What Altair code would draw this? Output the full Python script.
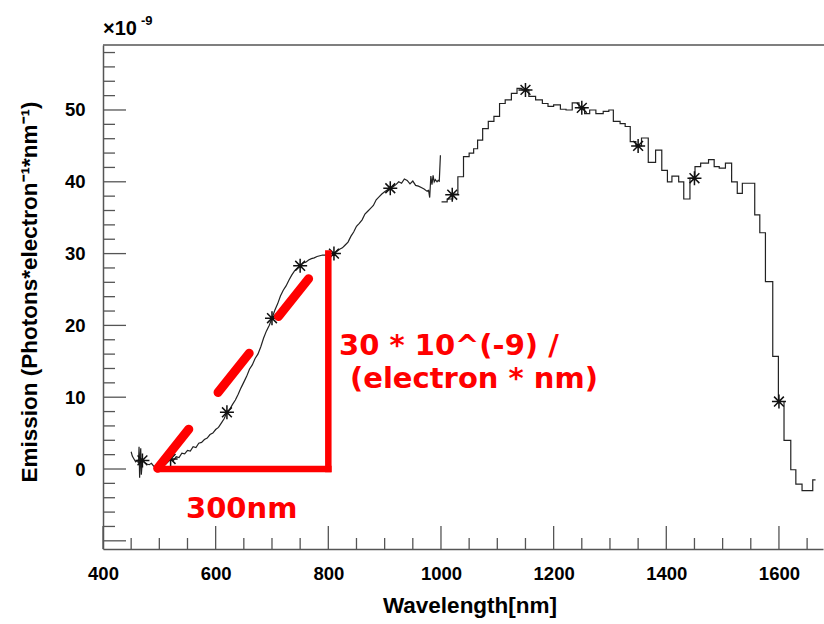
import altair as alt
import pandas as pd

# ---- visible-range spectrum (fine sampling) ----
vis_wl = [450, 452, 455, 458, 461, 463, 464, 465, 466, 467, 468, 470, 474, 478, 482, 486, 490, 494, 498,
          500, 505, 510, 515, 520, 525, 530, 535, 540, 545, 550, 555, 560, 565, 570, 575, 580, 585, 590, 595,
          600, 605, 610, 615, 620, 625, 630, 635, 640, 645, 650, 655, 660, 665, 670, 675, 680, 685, 690, 695,
          700, 705, 710, 715, 720, 725, 730, 735, 740, 745, 750, 755, 760, 765, 770, 775, 780, 785, 790, 795,
          800, 805, 810, 815, 820, 825, 830, 835, 840, 845, 850, 855, 860, 865, 870, 875, 880, 885, 890, 895,
          900, 905, 910, 915, 920, 925, 930, 935, 940, 945, 950, 955, 960, 965, 970, 975, 978, 980, 982, 984,
          986, 988, 990, 993, 995, 997, 999]
vis_em = [2.4, 1.8, 1.4, 1.0, 1.2, 0.8, 3.1, -1.2, 1.5, 2.9, -0.8, 1.2, 0.9, 0.7, 0.6, 0.8, 0.4, 0.3, 0.5,
          0.6, 0.5, 0.9, 1.0, 1.4, 1.2, 1.7, 1.6, 2.2, 2.1, 2.6, 2.5, 3.1, 3.0, 3.6, 3.7, 4.1, 4.3, 4.8, 5.0,
          5.5, 5.8, 6.4, 7.0, 7.9, 8.3, 9.0, 9.6, 10.4, 11.3, 12.1, 12.9, 13.9, 14.5, 15.4, 16.0, 17.0, 18.2, 19.2, 20.0,
          21.0, 22.1, 23.0, 24.1, 24.9, 25.5, 26.3, 27.0, 27.6, 28.0, 28.3, 28.7, 28.8, 29.1, 29.3, 29.4, 29.6, 29.7, 29.8, 29.8,
          29.9, 30.0, 30.0, 30.3, 30.6, 30.8, 31.2, 31.6, 32.4, 33.0, 33.8, 34.2, 34.7, 35.5, 35.9, 36.3, 36.7, 37.5, 37.9, 38.3,
          38.6, 38.9, 39.1, 39.3, 39.6, 40.0, 39.8, 40.4, 40.2, 39.7, 40.1, 39.5, 39.4, 39.2, 39.0, 38.7, 38.8, 37.8, 40.8, 39.6,
          40.9, 40.0, 40.3, 40.0, 40.2, 40.1, 43.7]

# ---- NIR spectrum (binned, step-after) ----
nir_wl = [1001, 1011, 1021, 1030, 1040, 1050, 1058, 1065, 1074, 1084, 1094, 1104, 1114, 1125, 1135,
          1144, 1156, 1168, 1180, 1190, 1200, 1212, 1222, 1233, 1245, 1255, 1264, 1275, 1288, 1298,
          1306, 1318, 1327, 1336, 1346, 1356, 1368, 1381, 1392, 1402, 1410, 1422, 1431, 1442, 1451,
          1461, 1475, 1485, 1494, 1505, 1516, 1526, 1535, 1557, 1566, 1576, 1589, 1599, 1609, 1621,
          1630, 1641, 1660, 1665]
nir_em = [37.2, 37.6, 38.3, 40.7, 43.5, 44.0, 44.6, 45.8, 47.4, 48.4, 49.1, 50.9, 51.4, 52.3, 53.0,
          52.8, 51.9, 51.4, 50.9, 50.5, 50.7, 50.1, 50.0, 51.0, 50.3, 49.5, 50.0, 49.5, 49.8, 50.0,
          48.4, 48.1, 47.7, 45.6, 45.0, 46.1, 42.7, 44.4, 41.6, 40.0, 40.8, 40.0, 37.6, 40.5, 42.1,
          42.6, 43.1, 42.1, 41.9, 42.6, 40.0, 38.4, 39.8, 35.4, 32.9, 26.1, 15.7, 9.4, 4.0, -0.1,
          -2.1, -3.0, -1.5, -1.5]

# ---- asterisk markers ----
star_wl = [470, 520, 620, 700, 750, 810, 910, 1020, 1150, 1250, 1350, 1450, 1600]
star_em = [1.2, 1.4, 7.9, 21.0, 28.3, 30.0, 39.1, 38.2, 52.8, 50.3, 45.0, 40.5, 9.4]

# ---- axis ticks / labels ----
x_labels = [400, 600, 800, 1000, 1200, 1400, 1600]
y_labels = [0, 10, 20, 30, 40, 50]
x_major = [400, 600, 800, 1000, 1200, 1400, 1600]
x_minor = [450, 500, 550, 650, 700, 750, 850, 900, 950, 1050, 1100, 1150, 1250, 1300, 1350,
           1450, 1500, 1550, 1650]
y_major = [-10, 0, 10, 20, 30, 40, 50]
y_minor = [-8, -6, -4, -2, 2, 4, 6, 8, 12, 14, 16, 18, 22, 24, 26, 28, 32, 34, 36, 38,
           42, 44, 46, 48, 52, 54, 56, 58]

# ---- red annotation ----
tri_x = [500, 800]
tri_y = [0, 30]
dash_x = [497, 765]
dash_y = [0.1, 26.5]

W, H = 720, 504
xs = alt.Scale(domain=[400, 1678.2], nice=False, zero=False)
ys = alt.Scale(domain=[-11.14, 59.05], nice=False, zero=False)
AX = "#555555"
FONT = "Liberation Sans"
RED = "#ff0000"

xaxis = alt.Axis(values=x_labels, ticks=False, grid=False, domain=True, domainColor=AX,
                 domainWidth=1.5, labelFont=FONT, labelFontSize=18.5, labelFontWeight="bold",
                 labelColor="black", labelPadding=15, labelFlush=False, labelOverlap=False,
                 format="d", title=None)
yaxis = alt.Axis(values=y_labels, ticks=False, grid=False, domain=True, domainColor=AX,
                 domainWidth=1.5, labelFont=FONT, labelFontSize=18.5, labelFontWeight="bold",
                 labelColor="black", labelPadding=18, labelFlush=False, labelOverlap=False,
                 format="d", title=None)


def X(field):
    return alt.X(field, scale=xs, axis=xaxis)


def Y(field):
    return alt.Y(field, scale=ys, axis=yaxis)


vis_df = pd.DataFrame({"wl": vis_wl, "em": vis_em})
nir_df = pd.DataFrame({"wl": nir_wl, "em": nir_em})
star_df = pd.DataFrame({"wl": star_wl, "em": star_em})

vis_line = alt.Chart(vis_df).mark_line(color="#222222", strokeWidth=1.2, clip=True).encode(
    x=X("wl:Q"), y=Y("em:Q"))
nir_line = alt.Chart(nir_df).mark_line(color="#222222", strokeWidth=1.2, interpolate="step-after",
                                       clip=True).encode(x=X("wl:Q"), y=Y("em:Q"))
ASTER = "M-1,0L1,0M0,-1L0,1M-0.7,-0.7L0.7,0.7M-0.7,0.7L0.7,-0.7"
stars = alt.Chart(star_df).mark_point(shape=ASTER, size=196, filled=False, strokeWidth=1.5,
                                      color="#111111", opacity=1).encode(x=X("wl:Q"), y=Y("em:Q"))


# ticks (inside, ROOT style)
def ytick(vals, length):
    return alt.Chart(pd.DataFrame({"v": vals})).mark_rule(color=AX, strokeWidth=1.3).encode(
        y=Y("v:Q"), x=alt.value(0), x2=alt.value(length))


def xtick(vals, length):
    return alt.Chart(pd.DataFrame({"v": vals})).mark_rule(color=AX, strokeWidth=1.3).encode(
        x=X("v:Q"), y=alt.value(H), y2=alt.value(H - length))


frame_top = alt.Chart(pd.DataFrame({"a": [0]})).mark_rule(color=AX, strokeWidth=1.5).encode(
    x=alt.value(0), x2=alt.value(W + 5), y=alt.value(0))

# red triangle
h_rule = alt.Chart(pd.DataFrame({"x": [tri_x[0]], "x2": [tri_x[1]], "y": [tri_y[0]]})).mark_rule(
    color=RED, strokeWidth=6.5, strokeCap="square").encode(x=X("x:Q"), x2="x2:Q", y=Y("y:Q"))
v_rule = alt.Chart(pd.DataFrame({"x": [tri_x[1]], "y": [tri_y[0]], "y2": [tri_y[1]]})).mark_rule(
    color=RED, strokeWidth=6.5, strokeCap="square").encode(x=X("x:Q"), y=Y("y:Q"), y2="y2:Q")
dash = alt.Chart(pd.DataFrame({"x": dash_x, "y": dash_y})).mark_line(
    color=RED, strokeWidth=9, strokeCap="round", strokeDash=[50, 47]).encode(x=X("x:Q"), y=Y("y:Q"))


def txt(s, x, y, size, color="black", font=FONT, align="left", angle=0, baseline="alphabetic"):
    kw = dict(align=align, baseline=baseline, fontSize=size, font=font, fontWeight="bold", color=color)
    if angle:
        kw["angle"] = angle
    return alt.Chart(pd.DataFrame({"t": [s]})).mark_text(**kw).encode(
        text="t:N", x=alt.value(x), y=alt.value(y))


red1 = txt("300nm", 83, 473, 29, RED, "DejaVu Sans")
red2 = txt("30 * 10^(-9) /", 236, 310, 29, RED, "DejaVu Sans")
red3 = txt("(electron * nm)", 247, 343, 29, RED, "DejaVu Sans")

xtitle = txt("Wavelength[nm]", 367, 568, 22.5, align="center")
ytitle = txt("Emission (Photons*electron\u207b\u00b9*nm\u207b\u00b9)", -73, 247, 22.5, align="center",
             angle=270, baseline="middle")
exp1 = txt("\u00d710", 0, -10.5, 20)
exp2 = txt("-9", 38, -20.5, 13)

chart = alt.layer(
    vis_line, nir_line, stars,
    ytick(y_minor, 12), ytick(y_major, 23), xtick(x_minor, 11), xtick(x_major, 23), frame_top,
    h_rule, v_rule, dash, red1, red2, red3, xtitle, ytitle, exp1, exp2,
).properties(
    width=W, height=H,
    autosize=alt.AutoSizeParams(type="none"),
    padding={"left": 103, "top": 45, "right": 1, "bottom": 75},
    background="white",
).configure_view(stroke=None)

chart.save("out.html", embed_options={"renderer": "svg", "actions": False})
